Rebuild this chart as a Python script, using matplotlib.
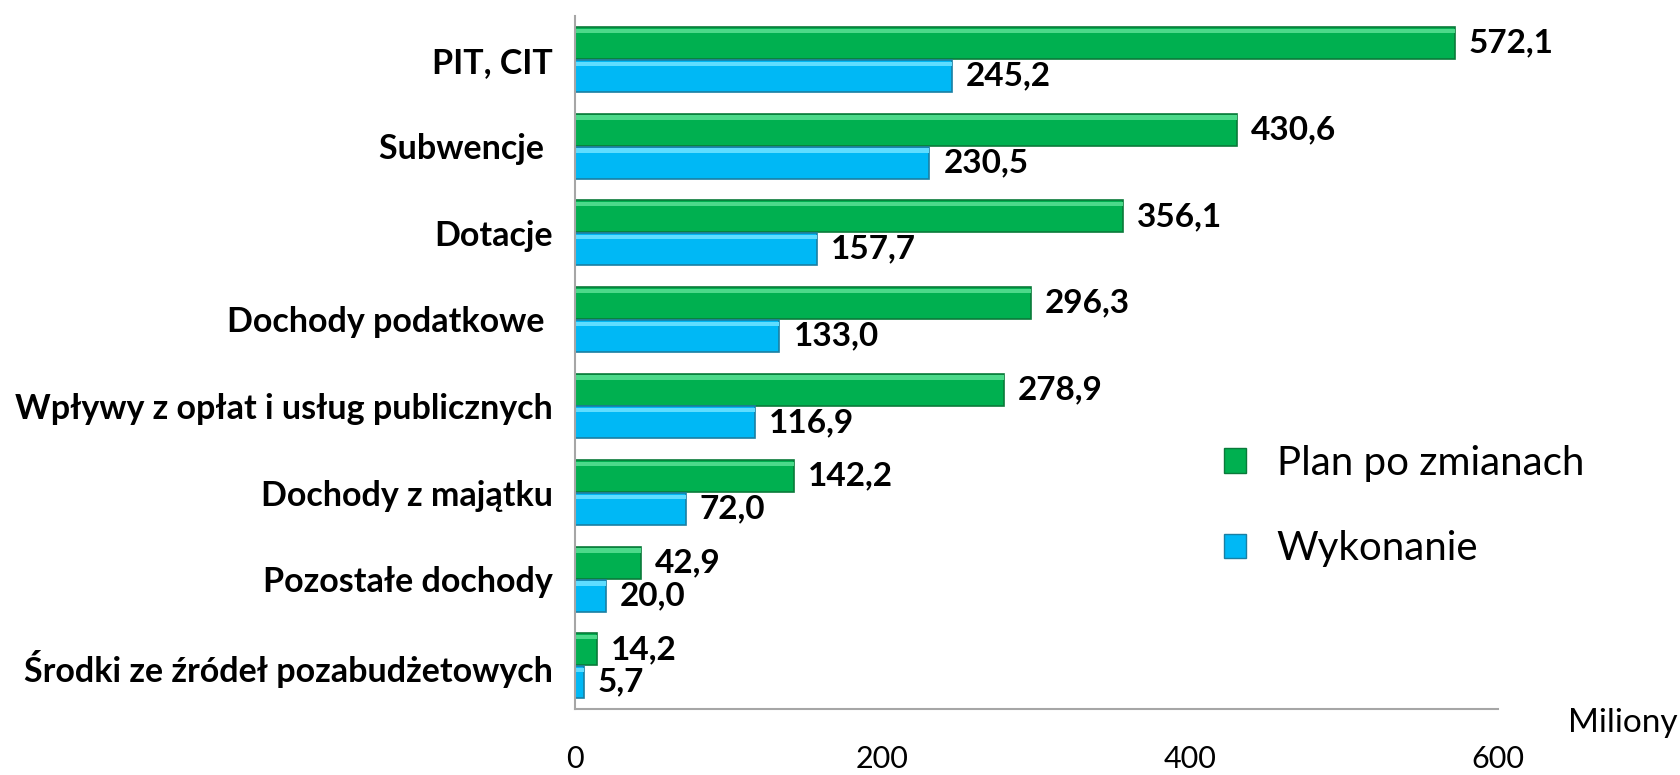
import matplotlib.pyplot as plt
from matplotlib.patches import Patch
import numpy as np

plt.rcParams['font.family'] = ['Lato', 'DejaVu Sans']

kategorie = ['PIT, CIT', 'Subwencje ', 'Dotacje', 'Dochody podatkowe ',
             'Wpływy z opłat i usług publicznych', 'Dochody z majątku',
             'Pozostałe dochody', 'Środki ze źródeł pozabudżetowych']
plan = [572.1, 430.6, 356.1, 296.3, 278.9, 142.2, 42.9, 14.2]
wykonanie = [245.2, 230.5, 157.7, 133.0, 116.9, 72.0, 20.0, 5.7]
x_ticks = [0, 200, 400, 600]

zielony = '#00B050'
niebieski = '#00B8F5'

fig = plt.figure(figsize=(16.81, 7.75), dpi=100)
ax = fig.add_axes([0.342, 0.085, 0.549, 0.894])

y = np.arange(len(kategorie))
h = 0.37
b1 = ax.barh(y - 0.19, plan, height=h, color=zielony, edgecolor='#0A7A3A', linewidth=1.2)
b2 = ax.barh(y + 0.19, wykonanie, height=h, color=niebieski, edgecolor='#1A7FA3', linewidth=1.2)
# jasny pasek u gory slupka (efekt wypuklosci)
ax.barh(y - 0.19 - h / 2 + 0.045, plan, height=0.05, color='#4CD98A', linewidth=0)
ax.barh(y + 0.19 - h / 2 + 0.045, wykonanie, height=0.05, color='#5FDDFF', linewidth=0)

# etykiety wartosci
for bars, vals in [(b1, plan), (b2, wykonanie)]:
    for bar, v in zip(bars, vals):
        ax.annotate(f"{v:.1f}".replace('.', ','),
                    (bar.get_width(), bar.get_y() + bar.get_height() / 2),
                    xytext=(10, 0), textcoords='offset points',
                    ha='left', va='center', fontsize=24, fontweight='bold')

ax.set_xlim(0, 600)
ax.set_ylim(len(kategorie) - 0.5, -0.5)
ax.set_yticks(y)
ax.set_yticklabels(kategorie, fontsize=24.5, fontweight='bold')
ax.set_xticks(x_ticks)
ax.set_xticklabels([str(t) for t in x_ticks], fontsize=22)
ax.tick_params(axis='x', length=0, pad=26)
ax.tick_params(axis='y', length=0, pad=16)

for s in ['top', 'right']:
    ax.spines[s].set_visible(False)
for s in ['left', 'bottom']:
    ax.spines[s].set_color('#A6A6A6')
    ax.spines[s].set_linewidth(1.5)

fig.text(0.998, 1 - 723 / 775, 'Miliony', ha='right', va='center', fontsize=24)

handles = [Patch(facecolor=zielony, edgecolor='#0A7A3A'),
           Patch(facecolor=niebieski, edgecolor='#1A7FA3')]
fig.legend(handles, ['Plan po zmianach', 'Wykonanie'], loc='center left',
           bbox_to_anchor=(1188 / 1681, 1 - 506 / 775), frameon=False,
           fontsize=29, handlelength=0.55, handleheight=0.55, handletextpad=0.75,
           labelspacing=1.2)

fig.savefig('out.png', dpi=100)
